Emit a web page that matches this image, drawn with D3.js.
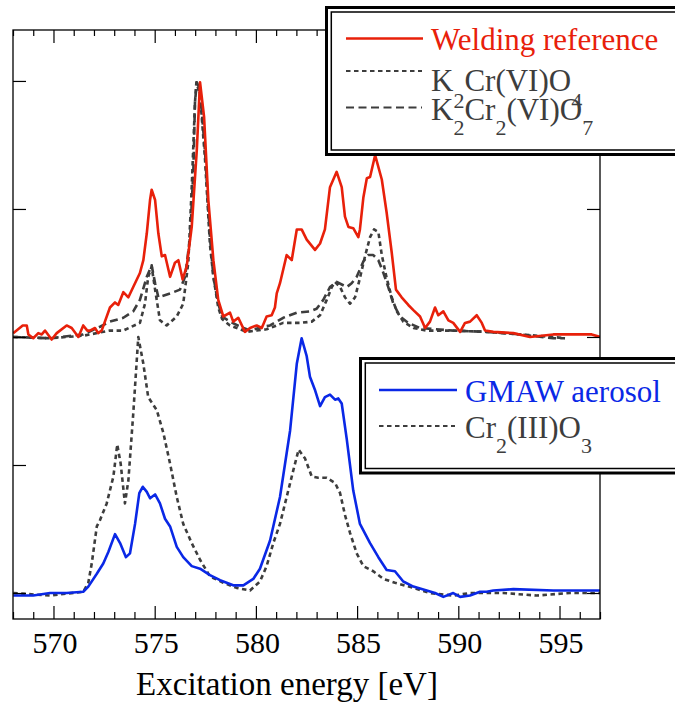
<!DOCTYPE html>
<html><head><meta charset="utf-8">
<script src="https://cdn.jsdelivr.net/npm/d3@7"></script>
<style>
html,body{margin:0;padding:0;background:#fff;}
svg{display:block;}
</style></head>
<body><svg id="chart" width="675" height="703"></svg>
<script>
// ---------- data (energy eV, normalized intensity with vertical offset) ----------
const weldingE = [568.01,568.48,568.68,568.76,569.00,569.25,569.42,569.58,569.91,570.16,570.65,570.90,571.23,571.47,571.67,571.80,572.05,572.21,572.38,572.79,573.04,573.20,573.45,573.70,573.94,574.27,574.44,574.61,574.77,574.85,575.02,575.18,575.35,575.51,575.76,576.00,576.17,576.38,576.58,576.83,577.08,577.24,577.44,577.65,577.90,578.14,578.39,578.72,578.88,579.13,579.46,579.71,580.04,580.29,580.53,580.78,580.94,581.03,581.19,581.52,581.77,582.02,582.26,582.51,582.92,583.17,583.41,583.66,583.99,584.24,584.40,584.57,584.81,585.06,585.14,585.31,585.48,585.64,585.89,586.22,586.46,586.71,586.92,587.20,587.53,587.78,588.11,588.36,588.60,588.85,589.01,589.26,589.51,589.75,590.09,590.33,590.58,590.91,591.16,591.32,591.73,592.72,593.54,594.69,596.59,597.00];
const weldingI = [2.03,2.09,2.09,2.02,1.99,2.03,2.02,2.05,1.98,2.03,2.09,2.07,2.00,2.09,2.05,2.05,2.07,2.03,2.05,2.23,2.27,2.25,2.35,2.31,2.39,2.50,2.60,2.81,3.07,3.15,3.07,2.81,2.63,2.64,2.47,2.58,2.60,2.45,2.55,2.86,3.46,3.99,3.72,3.07,2.60,2.29,2.16,2.19,2.12,2.15,2.04,2.07,2.09,2.07,2.16,2.17,2.23,2.34,2.42,2.64,2.60,2.84,2.84,2.76,2.68,2.73,2.84,3.17,3.29,3.17,2.94,2.86,2.85,2.78,2.84,3.09,3.24,3.25,3.42,3.23,2.97,2.66,2.37,2.31,2.25,2.21,2.16,2.07,2.12,2.23,2.17,2.20,2.13,2.11,2.04,2.11,2.12,2.17,2.11,2.05,2.04,2.03,2.00,2.02,2.02,2.00];

const k2cro4E = [568.01,569.83,571.47,572.79,573.45,574.27,574.52,574.68,574.85,575.02,575.26,575.59,576.09,576.41,576.66,576.83,576.99,577.06,577.24,577.49,577.73,577.90,578.14,578.33,578.72,579.22,579.55,580.04,580.53,581.35,582.18,582.76,583.17,583.50,583.75,583.91,584.16,584.40,584.65,584.90,585.14,585.39,585.64,585.84,586.05,586.22,586.46,586.71,586.96,587.28,587.78,588.44,589.75,591.40,593.05,594.69,595.27];
const k2cro4I = [2.00,1.99,2.01,2.05,2.05,2.11,2.26,2.47,2.55,2.37,2.13,2.09,2.16,2.26,2.58,3.17,3.83,3.99,3.89,3.38,2.72,2.47,2.23,2.14,2.09,2.06,2.04,2.05,2.06,2.11,2.11,2.12,2.17,2.29,2.39,2.43,2.39,2.31,2.26,2.31,2.46,2.63,2.78,2.84,2.82,2.64,2.46,2.31,2.20,2.12,2.07,2.05,2.05,2.04,2.02,2.00,1.99];

const k2cr2o7E = [568.01,569.83,571.47,572.30,572.79,573.45,573.94,574.27,574.61,574.85,575.02,575.18,575.76,576.25,576.50,576.75,576.91,576.99,577.08,577.19,577.32,577.49,577.73,577.90,578.14,578.33,578.72,579.22,579.71,580.37,580.70,581.35,582.02,582.67,583.00,583.33,583.66,583.99,584.24,584.49,584.73,584.98,585.31,585.55,585.80,586.05,586.30,586.54,586.79,587.12,587.53,588.11,589.75,591.40,593.05,594.69,595.27];
const k2cr2o7I = [2.00,1.99,2.02,2.08,2.12,2.15,2.20,2.29,2.47,2.56,2.42,2.31,2.34,2.37,2.47,2.78,3.30,3.83,3.99,3.95,3.77,3.44,2.78,2.47,2.26,2.16,2.12,2.08,2.05,2.08,2.09,2.15,2.19,2.20,2.22,2.29,2.39,2.43,2.41,2.39,2.42,2.47,2.59,2.64,2.64,2.60,2.50,2.39,2.26,2.16,2.11,2.07,2.05,2.04,2.02,1.99,1.99];

const gmawE = [568.01,569.00,569.83,570.65,571.47,571.72,572.14,572.46,572.71,573.04,573.29,573.58,573.78,574.03,574.24,574.41,574.61,574.77,575.02,575.26,575.51,575.76,576.09,576.41,576.83,577.24,577.73,578.23,578.88,579.38,579.87,580.20,580.70,581.19,581.69,582.02,582.26,582.51,582.67,582.91,583.17,583.41,583.66,583.91,584.07,584.24,584.49,584.81,585.14,585.64,586.05,586.46,586.87,587.28,587.78,588.44,588.85,589.26,589.75,590.09,590.58,591.07,591.40,591.73,592.72,594.69,597.00];
const gmawI = [-0.02,-0.02,0.00,0.00,0.01,0.05,0.15,0.23,0.32,0.46,0.39,0.28,0.31,0.54,0.78,0.83,0.79,0.74,0.77,0.70,0.58,0.52,0.36,0.28,0.21,0.19,0.14,0.10,0.06,0.06,0.11,0.19,0.41,0.75,1.27,1.79,1.99,1.85,1.69,1.59,1.46,1.53,1.55,1.51,1.52,1.48,1.20,0.80,0.54,0.39,0.28,0.18,0.17,0.09,0.05,0.02,0.00,-0.03,0.00,-0.03,-0.02,0.01,0.01,0.02,0.03,0.02,0.02];

const cr2o3E = [568.01,569.83,571.47,571.72,571.89,572.14,572.30,572.63,572.96,573.15,573.32,573.53,573.70,573.94,574.19,574.44,574.68,575.10,575.43,575.76,576.09,576.41,576.83,577.24,577.73,578.39,579.05,579.71,580.20,580.53,580.86,581.19,581.52,581.85,582.11,582.43,582.76,583.08,583.50,583.91,584.16,584.40,584.65,584.98,585.31,585.80,586.30,586.87,587.78,588.60,589.75,590.58,592.22,593.87,595.52,597.00];
const cr2o3I = [0.00,-0.02,0.01,0.08,0.23,0.52,0.57,0.70,0.91,1.16,1.01,0.70,0.88,1.40,2.00,1.79,1.53,1.43,1.25,1.01,0.75,0.54,0.39,0.26,0.13,0.08,0.04,0.02,0.09,0.21,0.39,0.54,0.75,0.96,1.12,1.05,0.91,0.90,0.90,0.86,0.78,0.61,0.47,0.31,0.21,0.17,0.11,0.08,0.04,0.00,-0.02,0.00,0.00,-0.02,0.00,0.00];

const xMajorTicks = [570,575,580,585,590,595];
const yTicks = [0,1,2,3,4];
const xLabel = "Excitation energy [eV]";

const series = [
  {name:"welding", e:weldingE, v:weldingI, color:"#e8200a", dash:null, w:2.6},
  {name:"k2cro4", e:k2cro4E, v:k2cro4I, color:"#3d3d3d", dash:"4.5,3.5", w:2.6},
  {name:"k2cr2o7", e:k2cr2o7E, v:k2cr2o7I, color:"#3d3d3d", dash:"8,4.5", w:2.6},
  {name:"cr2o3", e:cr2o3E, v:cr2o3I, color:"#3d3d3d", dash:"4.5,3.5", w:2.6},
  {name:"gmaw", e:gmawE, v:gmawI, color:"#0a28e6", dash:null, w:2.6}
];

// ---------- layout ----------
const FONT = "'Liberation Serif','Times New Roman',serif";
const svg = d3.select("#chart");
const L = 13, R = 600, T = 30, B = 619;
const x = d3.scaleLinear().domain([568, 597]).range([L, R]);
const y = d3.scaleLinear().domain([-0.203, 4.398]).range([B, T]);

svg.append("clipPath").attr("id", "clip").append("rect")
  .attr("x", L).attr("y", T).attr("width", R - L).attr("height", B - T);

const line = d3.line().x(d => x(d[0])).y(d => y(d[1]));
const curves = svg.append("g").attr("clip-path", "url(#clip)");
["k2cr2o7","k2cro4","welding","cr2o3","gmaw"].forEach(n => {
  const s = series.find(q => q.name === n);
  curves.append("path")
    .attr("d", line(d3.zip(s.e, s.v)))
    .attr("fill", "none")
    .attr("stroke", s.color)
    .attr("stroke-width", s.w)
    .attr("stroke-linejoin", "round")
    .attr("stroke-dasharray", s.dash);
});

// axes (ticks inward, no labels from axis)
const minor = d3.range(568, 598).filter(v => v % 5 !== 0);
function styleAxis(g){ g.select(".domain").remove(); g.selectAll("line").attr("stroke","#000").attr("stroke-width",1.2); }

svg.append("g").attr("transform", `translate(0,${B})`)
  .call(d3.axisBottom(x).tickValues(minor).tickSize(-7).tickFormat(""))
  .call(styleAxis);
svg.append("g").attr("transform", `translate(0,${B})`)
  .call(d3.axisBottom(x).tickValues(xMajorTicks).tickSize(-13).tickFormat(""))
  .call(styleAxis);
svg.append("g").attr("transform", `translate(0,${T})`)
  .call(d3.axisTop(x).tickValues(minor).tickSize(-6).tickFormat(""))
  .call(styleAxis);
svg.append("g").attr("transform", `translate(0,${T})`)
  .call(d3.axisTop(x).tickValues(xMajorTicks).tickSize(-13).tickFormat(""))
  .call(styleAxis);
svg.append("g").attr("transform", `translate(${L},0)`)
  .call(d3.axisLeft(y).tickValues(yTicks).tickSize(-13).tickFormat(""))
  .call(styleAxis);
svg.append("g").attr("transform", `translate(${R},0)`)
  .call(d3.axisRight(y).tickValues(yTicks).tickSize(-13).tickFormat(""))
  .call(styleAxis);

// tick labels
svg.append("g").selectAll("text").data(xMajorTicks).join("text")
  .attr("x", d => x(d) + 1.5).attr("y", 653)
  .attr("text-anchor", "middle")
  .style("font-family", FONT).style("font-size", "30px").style("fill", "#000")
  .text(d3.format("d"));

svg.append("rect").attr("x", L).attr("y", T).attr("width", R - L).attr("height", B - T)
  .attr("fill", "none").attr("stroke", "#000").attr("stroke-width", 1.3);

svg.append("text").attr("x", 287).attr("y", 695).attr("text-anchor", "middle")
  .style("font-family", FONT).style("font-size", "33px").style("fill", "#000").text(xLabel);

// ---------- legends ----------
function legendBox(x0, y0, y1){
  svg.append("rect").attr("x", x0).attr("y", y0).attr("width", 400).attr("height", y1 - y0)
    .attr("fill", "#fff").attr("stroke", "#000").attr("stroke-width", 3);
  svg.append("rect").attr("x", x0 + 4.8).attr("y", y0 + 4.5).attr("width", 400).attr("height", y1 - y0 - 9)
    .attr("fill", "none").attr("stroke", "#000").attr("stroke-width", 1.5);
}
function legendLine(x0, x1, yy, s, w){
  svg.append("line").attr("x1", x0).attr("x2", x1).attr("y1", yy).attr("y2", yy)
    .attr("stroke", s.color).attr("stroke-width", w).attr("stroke-dasharray", s.dash);
}
function legendText(x0, yb, parts, color, shift){
  const t = svg.append("text").attr("x", x0).attr("y", yb)
    .style("fill", color).style("font-family", FONT).style("font-size", "31px");
  let cur = 0;
  parts.forEach(([str, sub]) => {
    const target = sub ? shift : 0;
    t.append("tspan").attr("dy", target - cur).style("font-size", sub ? "22px" : "31px").text(str);
    cur = target;
  });
}
const S = n => series.find(q => q.name === n);

legendBox(326.5, 7.5, 154.5);
legendLine(346, 423, 38.5, S("welding"), 2.4);
legendText(431, 50, [["Welding reference", false]], "#e8200a", 0);
legendLine(346, 422, 71, S("k2cro4"), 1.8);
legendText(431, 90.5, [["K",false],["2",true],["Cr(VI)O",false],["4",true]], "#3d3d3d", 17);
legendLine(346, 422, 107.5, S("k2cr2o7"), 1.8);
legendText(431, 119.5, [["K",false],["2",true],["Cr",false],["2",true],["(VI)O",false],["7",true]], "#3d3d3d", 15);

legendBox(360.5, 358.5, 473);
legendLine(379, 457, 390, S("gmaw"), 2.4);
legendText(465, 401.5, [["GMAW aerosol", false]], "#0a28e6", 0);
legendLine(379, 455, 426, S("cr2o3"), 1.8);
legendText(465, 438.3, [["Cr",false],["2",true],["(III)O",false],["3",true]], "#3d3d3d", 15);
</script>
</body></html>
